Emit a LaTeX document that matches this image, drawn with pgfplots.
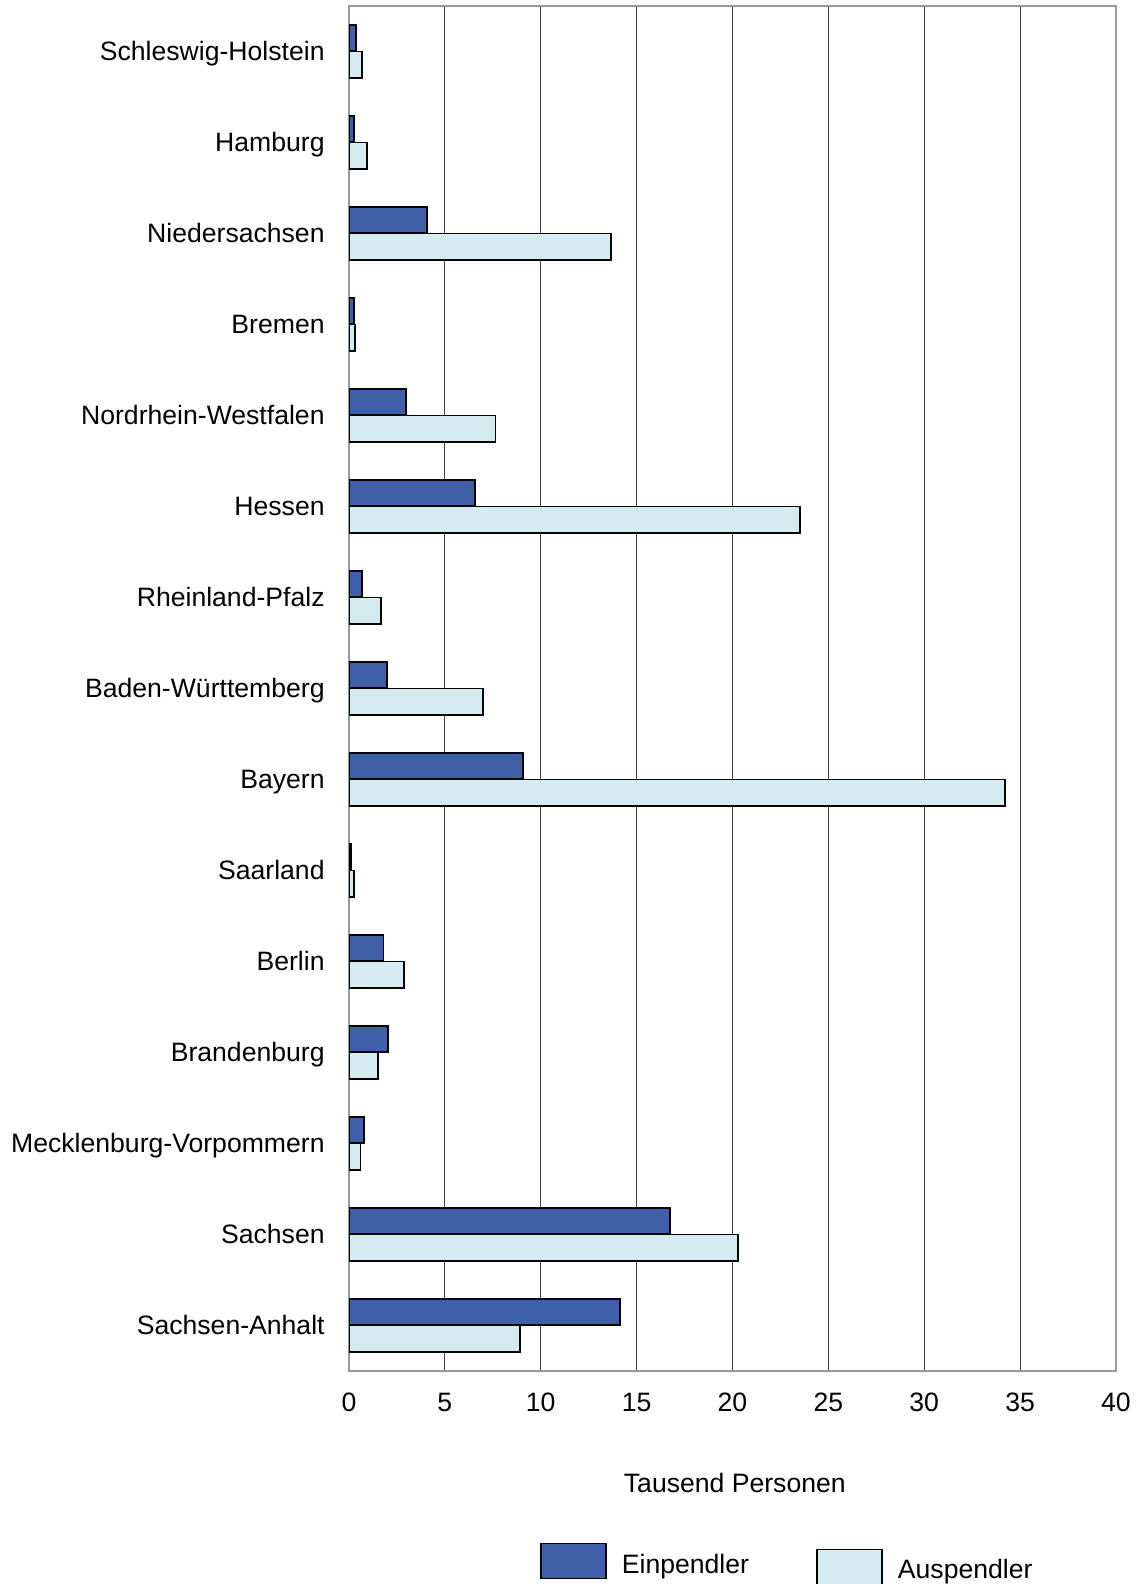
\documentclass[border=0pt]{standalone}
\usepackage{pgfplots}
\pgfplotsset{compat=1.18}
\usepackage{fontspec}
\setmainfont{Liberation Sans}
\definecolor{ein}{HTML}{3F5FA8}
\definecolor{aus}{HTML}{D3EBF1}
\pgfplotsset{
    einbox/.style={legend image code/.code={\draw[##1] (0pt,-8.75pt) rectangle (32.5pt,8.75pt);}},
    ausbox/.style={legend image code/.code={\draw[##1] (0pt,-11.75pt) rectangle (32.5pt,5.75pt);}},
}

\begin{document}
\fontsize{13.3}{16}\selectfont
\begin{tikzpicture}
\useasboundingbox (0,0) rectangle (569pt,792pt);
\begin{axis}[
    at={(174.5pt,106.5pt)}, anchor=south west,
    scale only axis, width=383.5pt, height=682.5pt,
    xbar, bar width=13.15pt,
    xmin=0, xmax=40, xtick={0,5,...,40},
    ymin=-0.5, ymax=14.5, ytick={0,...,14},
    yticklabels={Sachsen-Anhalt, Sachsen, Mecklenburg-Vorpommern, Brandenburg,
        Berlin, Saarland, Bayern, Baden-Württemberg, Rheinland-Pfalz, Hessen,
        Nordrhein-Westfalen, Bremen, Niedersachsen, Hamburg, Schleswig-Holstein},
    major tick length=0pt,
    xmajorgrids, grid style={black!75, line width=0.5pt},
    axis line style={black!40, line width=0.8pt},
    /pgf/number format/assume math mode=true,
    tick label style={font=\fontsize{13.3}{16}\selectfont},
    xticklabel style={anchor=north, inner sep=0pt, yshift=-10.8pt},
    yticklabel style={anchor=base east, inner sep=0pt, xshift=-12pt, yshift=-4.75pt},
    xlabel={Tausend Personen},
    xlabel style={at={(axis description cs:0.503,0)}, anchor=base, yshift=-60.75pt},
    legend columns=2,
    legend style={at={(axis description cs:0.249,-0.1414)}, anchor=west,
        draw=none, fill=none, inner sep=0pt, outer sep=0pt,
        nodes={inner sep=0pt, anchor=base west},
        column sep=7.5pt,
        /tikz/every even column/.append style={column sep=33.5pt}},
]
\addplot[draw=black, line width=0.95pt, fill=ein, bar shift=6.6pt, einbox]
    coordinates {
    (0.37,14) (0.26,13) (4.06,12) (0.26,11) (2.95,10) (6.59,9) (0.70,8) (2.00,7)
    (9.06,6) (0.10,5) (1.80,4) (2.05,3) (0.80,2) (16.76,1) (14.12,0)
    };
\addlegendentry{\raisebox{-6pt}{Einpendler}}
\addplot[draw=black, line width=0.95pt, fill=aus, bar shift=-6.6pt, ausbox]
    coordinates {
    (0.70,14) (0.95,13) (13.65,12) (0.30,11) (7.64,10) (23.50,9) (1.69,8) (7.00,7)
    (34.20,6) (0.26,5) (2.85,4) (1.53,3) (0.60,2) (20.30,1) (8.90,0)
    };
\addlegendentry{\raisebox{-8.5pt}{Auspendler}}
\end{axis}
\end{tikzpicture}
\end{document}
